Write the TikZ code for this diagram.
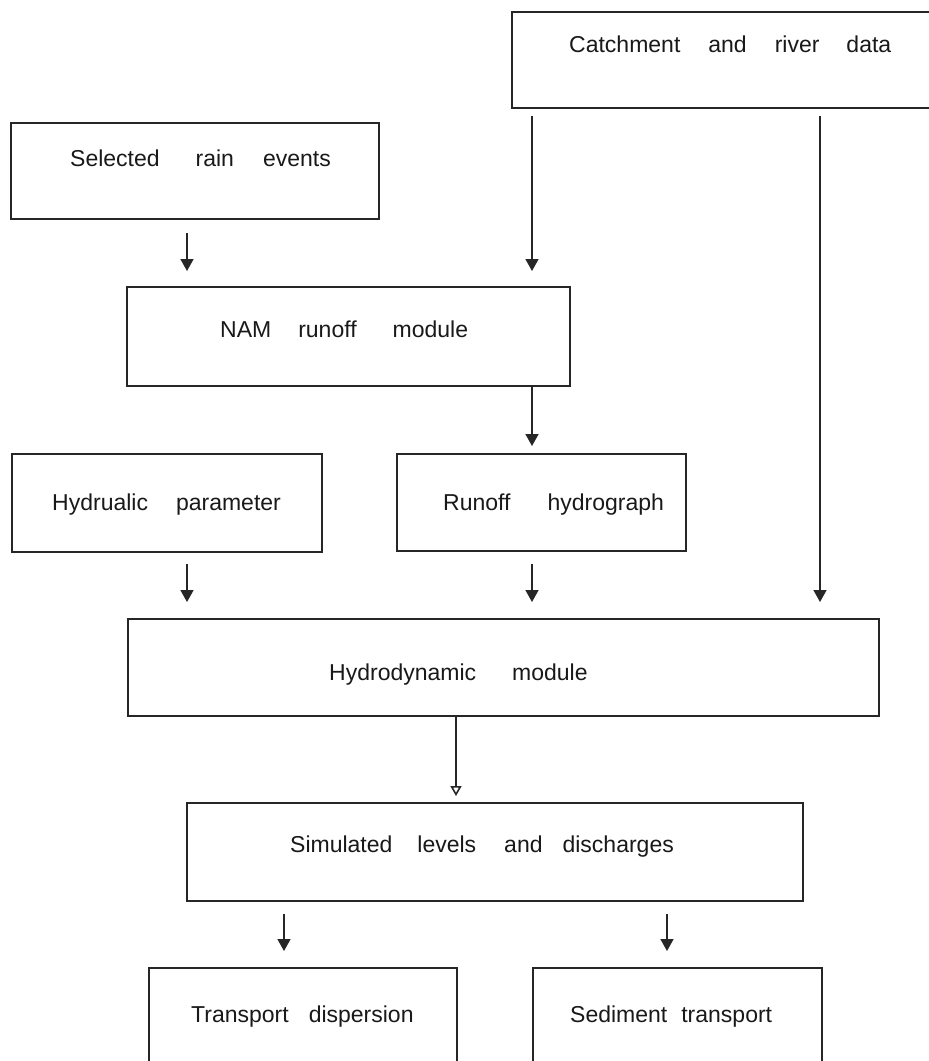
\documentclass[tikz,border=0pt]{standalone}
\usepackage{fontspec}
\setmainfont{Liberation Sans}
\usetikzlibrary{arrows.meta}
\begin{document}
\begin{tikzpicture}[x=1pt,y=-1pt,
  box/.style={draw=black!85, line width=2pt, rectangle, inner sep=0pt, fill=none},
  txt/.style={anchor=base west, inner sep=0pt, text=black!90, font=\fontsize{23}{27}\selectfont},
  arr/.style={draw=black!85, line width=1.6pt, -{Triangle[length=12pt,width=13pt]}},
  arro/.style={draw=black!85, line width=1.6pt, -{Triangle[open,length=10pt,width=11pt,fill=white]}}
]
\fill[white] (0,0) rectangle (929,1061);
\useasboundingbox (0,0) rectangle (929,1061);

% boxes
\node[box, minimum width=428pt, minimum height=96pt] (catch) at (726,60) {};
\node[box, minimum width=368pt, minimum height=96pt] (rain) at (195,171) {};
\node[box, minimum width=443pt, minimum height=99pt] (nam) at (348.5,336.5) {};
\node[box, minimum width=310pt, minimum height=98pt] (hyd) at (167,503) {};
\node[box, minimum width=289pt, minimum height=97pt] (runoff) at (541.5,502.5) {};
\node[box, minimum width=751pt, minimum height=97pt] (hdm) at (503.5,667.5) {};
\node[box, minimum width=616pt, minimum height=98pt] (sim) at (495,852) {};
\node[box, minimum width=308pt, minimum height=107pt] (tdisp) at (303,1021.5) {};
\node[box, minimum width=289pt, minimum height=107pt] (sed) at (677.5,1021.5) {};

% texts
\node[txt] (tcatch) at (569,52) {Catchment\hspace{28pt}and\hspace{28pt}river\hspace{27pt}data};
\node[txt] (train) at (70,166) {Selected\hspace{36pt}rain\hspace{29pt}events};
\node[txt] (tnam) at (220,337) {NAM\hspace{27pt}runoff\hspace{36pt}module};
\node[txt] (thyd) at (52,510) {Hydrualic\hspace{28pt}parameter};
\node[txt] (trunoff) at (443,510) {Runoff\hspace{37pt}hydrograph};
\node[txt] (thdm) at (329,680) {Hydrodynamic\hspace{36pt}module};
\node[txt] (tsim) at (290,852) {Simulated\hspace{25pt}levels\hspace{28pt}and\hspace{20pt}discharges};
\node[txt] (ttdisp) at (191,1022) {Transport\hspace{20pt}dispersion};
\node[txt] (tsed) at (570,1022) {Sediment\hspace{14pt}transport};

% arrow columns
\coordinate (xa) at (187,0);
\coordinate (xb) at (532,0);
\coordinate (xc) at (820,0);
\coordinate (xd) at (456,0);
\coordinate (xe) at (284,0);
\coordinate (xf) at (667,0);

% connectors
\draw[arr, shorten <=13pt, shorten >=15pt] (rain.south -| xa) -- (nam.north -| xa);
\draw[arr, shorten <=7pt, shorten >=15pt] (catch.south -| xb) -- (nam.north -| xb);
\draw[arr, shorten <=7pt, shorten >=16pt] (catch.south -| xc) -- (hdm.north -| xc);
\draw[arr, shorten >=7pt] (nam.south -| xb) -- (runoff.north -| xb);
\draw[arr, shorten <=11pt, shorten >=16pt] (hyd.south -| xa) -- (hdm.north -| xa);
\draw[arr, shorten <=12pt, shorten >=16pt] (runoff.south -| xb) -- (hdm.north -| xb);
\draw[arro, shorten >=6pt] (hdm.south -| xd) -- (sim.north -| xd);
\draw[arr, shorten <=12pt, shorten >=16pt] (sim.south -| xe) -- (tdisp.north -| xe);
\draw[arr, shorten <=12pt, shorten >=16pt] (sim.south -| xf) -- (sed.north -| xf);
\end{tikzpicture}
\end{document}
